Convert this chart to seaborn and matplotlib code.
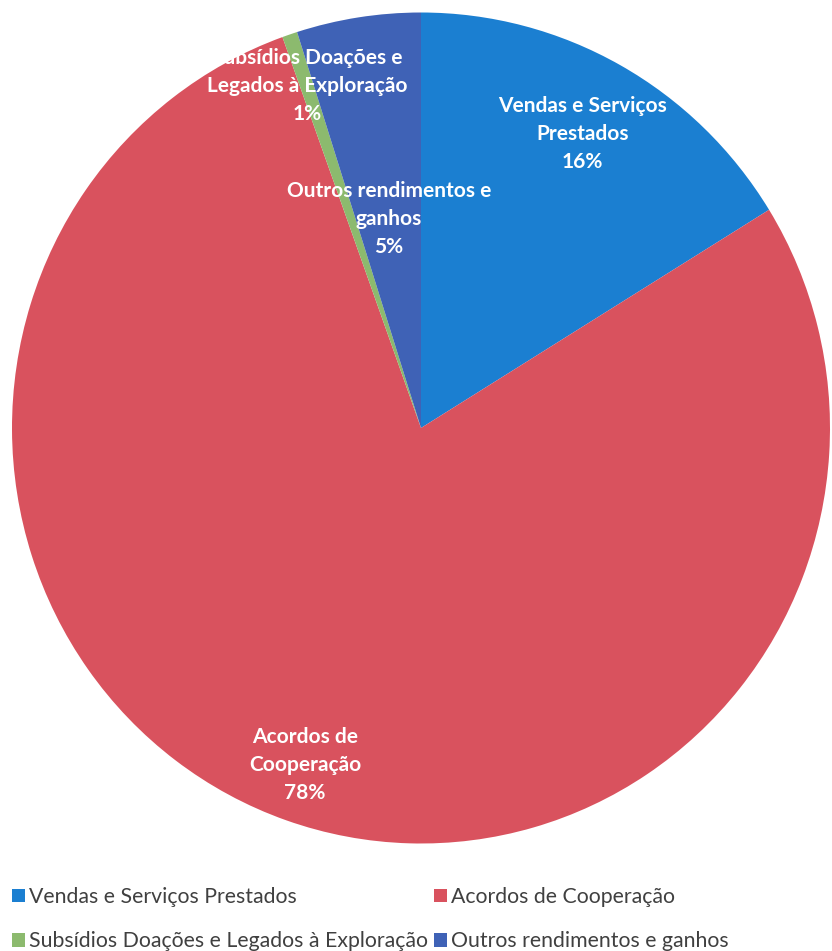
import matplotlib
matplotlib.use("Agg")
import matplotlib.pyplot as plt
import seaborn as sns
import numpy as np
from matplotlib.patches import Patch

categories = ["Vendas e Serviços Prestados", "Acordos de Cooperação",
              "Subsídios Doações e Legados à Exploração", "Outros rendimentos e ganhos"]
slice_labels = ["Vendas e Serviços\nPrestados", "Acordos de\nCooperação",
                "Subsídios Doações e\nLegados à Exploração", "Outros rendimentos e\nganhos"]
values = [16.2, 78.3, 0.6, 4.9]
colors = ["#1b7fd1", "#d9525e", "#8cba6e", "#3f62b6"]
label_dist = [0.81, 0.86, 0.87, 0.51]

sns.set_theme(style="white")
plt.rcParams['font.family'] = ['Lato', 'DejaVu Sans']

fig = plt.figure(figsize=(8.32, 9.51), dpi=100)
W, H = 832, 951
cx, cy, rx, ry = 421, 428, 409, 415.5
ax = fig.add_axes([(cx - rx) / W, 1 - (cy + ry) / H, 2 * rx / W, 2 * ry / H])
wedges, _ = ax.pie(values, colors=colors, startangle=90, counterclock=False,
                   radius=1.0, wedgeprops=dict(linewidth=0))
ax.set_aspect('auto')
ax.set_xlim(-1, 1)
ax.set_ylim(-1, 1)
ax.axis('off')

total = sum(values)
for w, lab, v, d in zip(wedges, slice_labels, values, label_dist):
    ang = np.deg2rad((w.theta1 + w.theta2) / 2)
    x, y = d * np.cos(ang), d * np.sin(ang)
    ax.text(x, y, f"{lab}\n{v / total * 100:.0f}%", ha='center', va='center',
            color='white', fontsize=15, fontweight='bold', linespacing=1.5,
            clip_on=False)

# legend in row-major order (matplotlib fills columns first)
order = [0, 2, 1, 3]
handles = [Patch(facecolor=colors[i], edgecolor='none') for i in order]
leg = fig.legend(handles, [categories[i] for i in order], loc='upper left', ncol=2,
                 bbox_to_anchor=(12 / W, 1 - 887 / H), frameon=False,
                 fontsize=15.3, handlelength=0.6, handleheight=0.6,
                 handletextpad=0.2, columnspacing=0.3, labelspacing=1.15,
                 borderaxespad=0, borderpad=0)
for t in leg.get_texts():
    t.set_color('#404040')

fig.savefig("out.png", dpi=100, facecolor='white')
